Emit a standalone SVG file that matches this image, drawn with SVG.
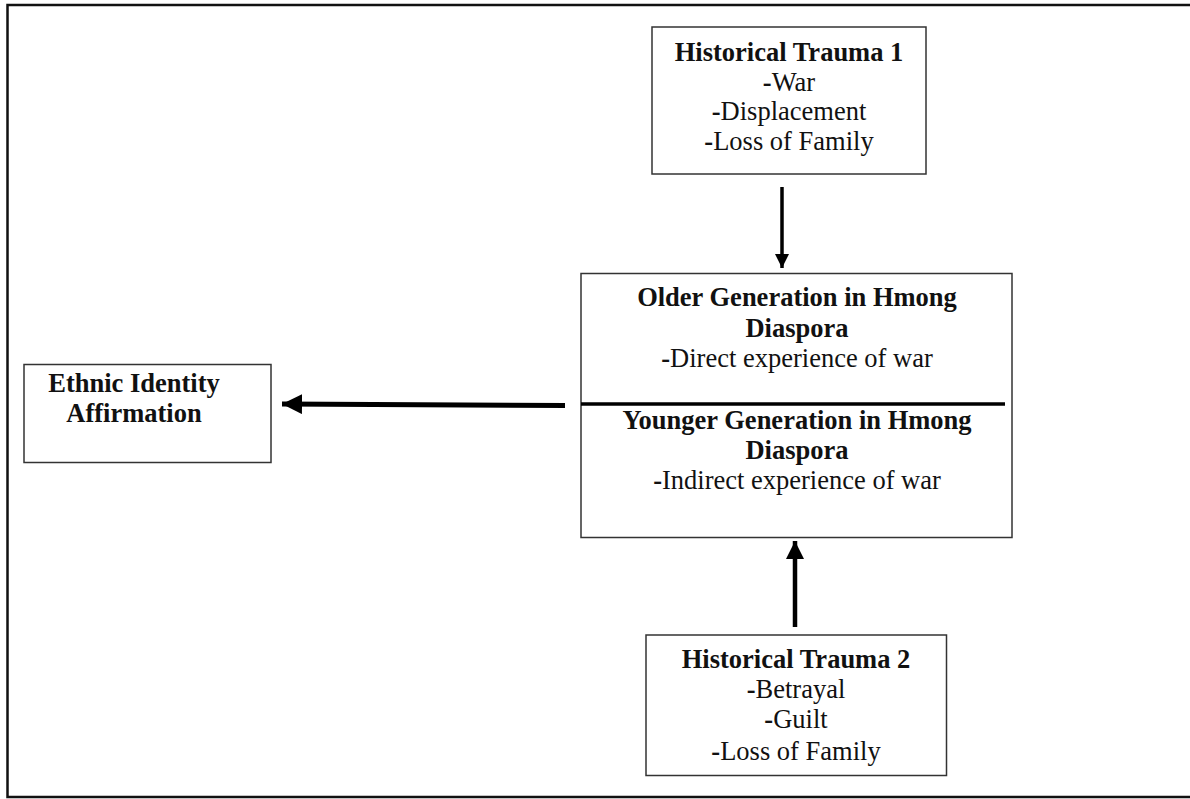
<svg xmlns="http://www.w3.org/2000/svg" width="1190" height="799" viewBox="0 0 1190 799">
<style>
.box{fill:#fff;stroke:#333;stroke-width:1.5}
.t{font-family:"Liberation Serif","Times New Roman",serif;font-size:26.5px;fill:#111;text-anchor:middle}
.b{font-weight:bold}
.conn{stroke:#000;fill:none}
</style>
<defs>
<marker id="ah" viewBox="0 0 10 10" refX="10" refY="5" markerWidth="4" markerHeight="4" markerUnits="strokeWidth" orient="auto">
<path d="M0,0 L10,5 L0,10 Z" fill="#000"/>
</marker>
</defs>
<rect width="1190" height="799" fill="#fff"/>
<g id="frame">
<path d="M1190,5 H7.5 V797 H1190" fill="none" stroke="#111" stroke-width="2.5"/>
</g>
<g id="trauma1">
<rect class="box" x="652" y="27" width="274" height="147"/>
<text class="t b" x="789" y="61">Historical Trauma 1</text>
<text class="t" x="789" y="91"><tspan class="b">-</tspan>War</text>
<text class="t" x="789" y="120"><tspan class="b">-</tspan>Displacement</text>
<text class="t" x="789" y="150"><tspan class="b">-</tspan>Loss of Family</text>
</g>
<g id="generations">
<rect class="box" x="581" y="273.5" width="431" height="264"/>
<line x1="581" y1="404" x2="1005" y2="404" stroke="#000" stroke-width="3.5"/>
<text class="t b" x="797" y="306">Older Generation in Hmong</text>
<text class="t b" x="797" y="337">Diaspora</text>
<text class="t" x="797" y="367"><tspan class="b">-</tspan>Direct experience of war</text>
<text class="t b" x="797" y="429">Younger Generation in Hmong</text>
<text class="t b" x="797" y="459">Diaspora</text>
<text class="t" x="797" y="489"><tspan class="b">-</tspan>Indirect experience of war</text>
</g>
<g id="ethnic">
<rect class="box" x="24" y="364.5" width="247" height="98"/>
<text class="t b" x="134" y="392">Ethnic Identity</text>
<text class="t b" x="134" y="422">Affirmation</text>
</g>
<g id="trauma2">
<rect class="box" x="646" y="635" width="300.5" height="140.5"/>
<text class="t b" x="796" y="668">Historical Trauma 2</text>
<text class="t" x="796" y="698"><tspan class="b">-</tspan>Betrayal</text>
<text class="t" x="796" y="728"><tspan class="b">-</tspan>Guilt</text>
<text class="t" x="796" y="760"><tspan class="b">-</tspan>Loss of Family</text>
</g>
<g id="connectors">
<line class="conn" x1="782" y1="187" x2="782" y2="268" stroke-width="3.5" marker-end="url(#ah)"/>
<line class="conn" x1="795" y1="627" x2="795" y2="541" stroke-width="4.5" marker-end="url(#ah)"/>
<line class="conn" x1="565" y1="405.5" x2="282" y2="404" stroke-width="5" marker-end="url(#ah)"/>
</g>
</svg>
